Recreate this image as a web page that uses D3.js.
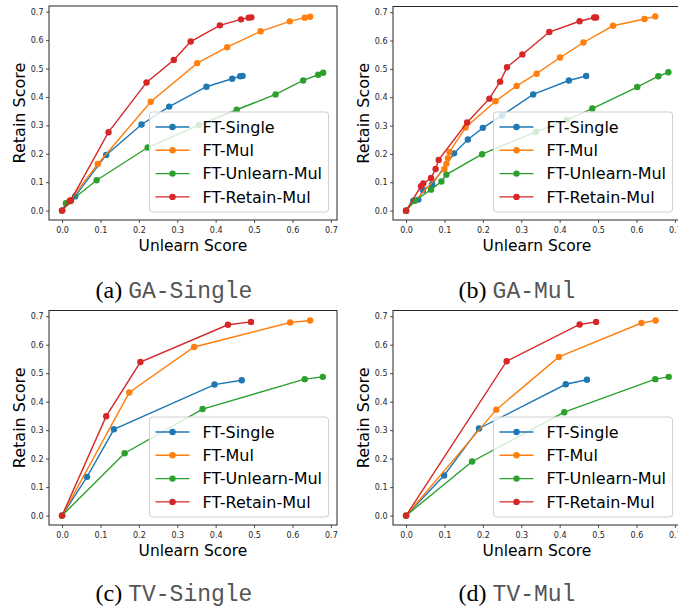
<!DOCTYPE html>
<html><head><meta charset="utf-8">
<script src="https://cdn.jsdelivr.net/npm/d3@7"></script>
<style>body{margin:0;background:#fff}svg{display:block}</style>
</head><body>
<svg id="chart" width="678" height="607"></svg>
<script>
// ---------- data ----------
const seriesNames = ["FT-Single", "FT-Mul", "FT-Unlearn-Mul", "FT-Retain-Mul"];
const seriesColors = ["#1f77b4", "#ff7f0e", "#2ca02c", "#d62728"];
const tickValues = [0.0, 0.1, 0.2, 0.3, 0.4, 0.5, 0.6, 0.7];
const captionLetters = ["(a)", "(b)", "(c)", "(d)"];
const captionNames = ["GA-Single", "GA-Mul", "TV-Single", "TV-Mul"];
const xLabel = "Unlearn Score";
const yLabel = "Retain Score";

// (a) GA-Single
const gaSingle_ftSingle = [[0,0],[0.034,0.050],[0.115,0.196],[0.207,0.303],[0.279,0.366],[0.376,0.436],[0.443,0.464],[0.464,0.473],[0.470,0.474]];
const gaSingle_ftMul = [[0,0],[0.020,0.035],[0.093,0.164],[0.231,0.383],[0.352,0.519],[0.430,0.575],[0.517,0.631],[0.593,0.666],[0.632,0.679],[0.646,0.682]];
const gaSingle_ftUnlearnMul = [[0,0],[0.010,0.026],[0.023,0.035],[0.090,0.107],[0.223,0.222],[0.356,0.301],[0.455,0.355],[0.556,0.409],[0.628,0.458],[0.667,0.478],[0.680,0.485]];
const gaSingle_ftRetainMul = [[0,0],[0.020,0.033],[0.023,0.037],[0.121,0.276],[0.220,0.451],[0.291,0.530],[0.335,0.595],[0.411,0.652],[0.466,0.673],[0.486,0.679],[0.493,0.680]];

// (b) GA-Mul
const gaMul_ftSingle = [[0,0],[0.019,0.035],[0.032,0.039],[0.044,0.073],[0.068,0.093],[0.125,0.202],[0.161,0.251],[0.200,0.292],[0.250,0.336],[0.331,0.410],[0.424,0.459],[0.469,0.475]];
const gaMul_ftMul = [[0,0],[0.100,0.147],[0.105,0.165],[0.109,0.185],[0.113,0.207],[0.155,0.293],[0.233,0.386],[0.288,0.440],[0.340,0.483],[0.401,0.540],[0.462,0.593],[0.539,0.652],[0.621,0.676],[0.649,0.685]];
const gaMul_ftUnlearnMul = [[0,0],[0.023,0.035],[0.065,0.074],[0.092,0.103],[0.105,0.127],[0.198,0.199],[0.338,0.278],[0.419,0.320],[0.485,0.360],[0.602,0.436],[0.657,0.474],[0.683,0.488]];
const gaMul_ftRetainMul = [[0,0],[0.039,0.086],[0.045,0.096],[0.065,0.115],[0.077,0.147],[0.085,0.179],[0.159,0.311],[0.217,0.395],[0.245,0.455],[0.263,0.506],[0.303,0.551],[0.373,0.630],[0.452,0.668],[0.490,0.681],[0.495,0.681]];

// (c) TV-Single
const tvSingle_ftSingle = [[0,0],[0.065,0.136],[0.135,0.303],[0.397,0.460],[0.468,0.475]];
const tvSingle_ftMul = [[0,0],[0.175,0.432],[0.344,0.592],[0.594,0.678],[0.646,0.685]];
const tvSingle_ftUnlearnMul = [[0,0],[0.163,0.219],[0.366,0.374],[0.632,0.479],[0.679,0.487]];
const tvSingle_ftRetainMul = [[0,0],[0.115,0.349],[0.204,0.539],[0.432,0.670],[0.492,0.680]];

// (d) TV-Mul
const tvMul_ftSingle = [[0,0],[0.099,0.141],[0.190,0.306],[0.416,0.461],[0.471,0.477]];
const tvMul_ftMul = [[0,0],[0.235,0.372],[0.398,0.557],[0.613,0.676],[0.650,0.685]];
const tvMul_ftUnlearnMul = [[0,0],[0.172,0.190],[0.412,0.363],[0.649,0.479],[0.684,0.487]];
const tvMul_ftRetainMul = [[0,0],[0.262,0.542],[0.452,0.671],[0.495,0.680]];

const panelData = [
  [gaSingle_ftSingle, gaSingle_ftMul, gaSingle_ftUnlearnMul, gaSingle_ftRetainMul],
  [gaMul_ftSingle, gaMul_ftMul, gaMul_ftUnlearnMul, gaMul_ftRetainMul],
  [tvSingle_ftSingle, tvSingle_ftMul, tvSingle_ftUnlearnMul, tvSingle_ftRetainMul],
  [tvMul_ftSingle, tvMul_ftMul, tvMul_ftUnlearnMul, tvMul_ftRetainMul]
];

// ---------- layout ----------
const panels = [
  {left: 49,  top: 6,     w: 288, h: 214,   capX: 174, capY: 298},
  {left: 393, top: 6.5,   w: 288, h: 213.5, capX: 517, capY: 298},
  {left: 49,  top: 310.5, w: 288, h: 214.5, capX: 174, capY: 601},
  {left: 393, top: 310.5, w: 288, h: 214.5, capX: 517, capY: 601}
];
const xDom = [-0.034, 0.716], yDom = [-0.033, 0.72];
const svg = d3.select("#chart");
const fam = "'DejaVu Sans', sans-serif";

panels.forEach((p, pi) => {
  const g = svg.append("g").attr("transform", `translate(${p.left},${p.top})`);
  const x = d3.scaleLinear().domain(xDom).range([0, p.w]);
  const y = d3.scaleLinear().domain(yDom).range([p.h, 0]);

  const xa = g.append("g").attr("transform", `translate(0,${p.h})`)
    .call(d3.axisBottom(x).tickValues(tickValues).tickFormat(d3.format(".1f")).tickSize(3).tickPadding(4));
  const ya = g.append("g")
    .call(d3.axisLeft(y).tickValues(tickValues).tickFormat(d3.format(".1f")).tickSize(3).tickPadding(2.5));
  [xa, ya].forEach(a => {
    a.select(".domain").remove();
    a.selectAll("text").attr("font-family", fam).attr("font-size", 8).attr("fill", "#262626");
    a.selectAll("line").attr("stroke", "#262626").attr("stroke-width", 0.8);
  });

  const line = d3.line().x(d => x(d[0])).y(d => y(d[1]));
  panelData[pi].forEach((ser, si) => {
    g.append("path").datum(ser).attr("d", line).attr("fill", "none")
      .attr("stroke", seriesColors[si]).attr("stroke-width", 1.4);
    g.selectAll(null).data(ser).enter().append("circle")
      .attr("cx", d => x(d[0])).attr("cy", d => y(d[1])).attr("r", 3.2)
      .attr("fill", seriesColors[si]);
  });

  g.append("rect").attr("x", 0).attr("y", 0).attr("width", p.w).attr("height", p.h)
    .attr("fill", "none").attr("stroke", "#262626").attr("stroke-width", 1);

  // legend
  const lw = 179, lh = 100;
  const lg = g.append("g").attr("transform", `translate(${p.w - 8.5 - lw},${p.h - 8 - lh})`);
  lg.append("rect").attr("width", lw).attr("height", lh).attr("rx", 3)
    .attr("fill", "#fff").attr("fill-opacity", 0.8).attr("stroke", "#d0d0d0").attr("stroke-width", 1);
  seriesNames.forEach((nm, si) => {
    const yy = 15 + si * 23.3;
    lg.append("line").attr("x1", 6).attr("x2", 40).attr("y1", yy).attr("y2", yy)
      .attr("stroke", seriesColors[si]).attr("stroke-width", 1.4);
    lg.append("circle").attr("cx", 23).attr("cy", yy).attr("r", 3.2).attr("fill", seriesColors[si]);
    lg.append("text").attr("x", 53).attr("y", yy).attr("dy", "0.36em")
      .attr("font-family", fam).attr("font-size", 16).attr("fill", "#000").text(nm);
  });

  // axis labels
  g.append("text").attr("x", p.w / 2).attr("y", p.h + 30.5).attr("text-anchor", "middle")
    .attr("font-family", fam).attr("font-size", 15.5).text(xLabel);
  g.append("text").attr("transform", `translate(-24,${p.h / 2}) rotate(-90)`)
    .attr("text-anchor", "middle").attr("font-family", fam).attr("font-size", 16).text(yLabel);

  // caption
  const cap = svg.append("text").attr("x", p.capX).attr("y", p.capY).attr("text-anchor", "middle");
  cap.append("tspan").attr("font-family", "'Liberation Serif', 'Times New Roman', serif")
    .attr("font-size", 24).text(captionLetters[pi] + " ");
  cap.append("tspan").attr("font-family", "'Liberation Mono', 'Courier New', monospace")
    .attr("font-size", 23).attr("fill", "#555").text(captionNames[pi]);
});
</script>
</body></html>
